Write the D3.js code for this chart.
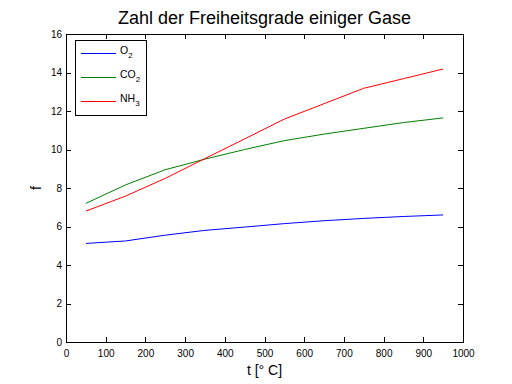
<!DOCTYPE html>
<html><head><meta charset="utf-8">
<script src="https://cdn.jsdelivr.net/npm/d3@7"></script>
<style>body{margin:0;background:#fff}svg{display:block}text{font-family:"Liberation Sans",Arial,sans-serif}</style>
</head><body><svg id="c" width="512" height="384"></svg>
<script>
const temps = [50,150,250,350,450,550,650,750,850,950];
const o2  = [5.12,5.25,5.55,5.8,5.97,6.15,6.3,6.42,6.52,6.6];
const co2 = [7.2,8.16,8.95,9.5,10.0,10.46,10.8,11.1,11.4,11.64];
const nh3 = [6.8,7.58,8.5,9.53,10.55,11.58,12.38,13.18,13.68,14.18];
const xTicks = [0,100,200,300,400,500,600,700,800,900,1000];
const yTicks = [0,2,4,6,8,10,12,14,16];
const seriesNames = ["O","CO","NH"];
const seriesSubs = ["2","2","3"];
const seriesColors = ["#0000ff","#008000","#ff0000"];
const series = [o2,co2,nh3];

const svg = d3.select("#c");
const L=66, R=463, T=34, B=342;
const x = d3.scaleLinear().domain([0,1000]).range([L,R]);
const y = d3.scaleLinear().domain([0,16]).range([B,T]);

svg.append("rect").attr("x",L).attr("y",T).attr("width",R-L).attr("height",B-T)
  .attr("fill","#fff").attr("stroke","#000").attr("stroke-width",1).attr("shape-rendering","crispEdges");

const tl=5;
const fmt = d3.format("d");
const gx = svg.append("g").attr("transform",`translate(0,${B})`)
  .call(d3.axisBottom(x).tickValues(xTicks).tickFormat(fmt).tickSizeInner(-tl).tickSizeOuter(0).tickPadding(8));
const gx2 = svg.append("g").attr("transform",`translate(0,${T})`)
  .call(d3.axisTop(x).tickValues(xTicks).tickSizeInner(-tl).tickSizeOuter(0).tickFormat(""));
const gy = svg.append("g").attr("transform",`translate(${L},0)`)
  .call(d3.axisLeft(y).tickValues(yTicks).tickFormat(fmt).tickSizeInner(-tl).tickSizeOuter(0).tickPadding(4));
const gy2 = svg.append("g").attr("transform",`translate(${R},0)`)
  .call(d3.axisRight(y).tickValues(yTicks).tickSizeInner(-tl).tickSizeOuter(0).tickFormat(""));
[gx,gx2,gy,gy2].forEach(g=>{
  g.select(".domain").remove();
  g.selectAll("line").attr("stroke","#000").attr("shape-rendering","crispEdges");
  g.selectAll("text").attr("font-size",10).attr("fill","#000").attr("font-family","'Liberation Sans',Arial,sans-serif");
});

const line = d3.line().x((d,i)=>x(temps[i])).y(d=>y(d));
series.forEach((s,i)=>{
  svg.append("path").datum(s).attr("d",line).attr("fill","none")
    .attr("stroke",seriesColors[i]).attr("stroke-width",1);
});

svg.append("text").attr("x",(L+R)/2).attr("y",24).attr("text-anchor","middle")
  .attr("font-size",18).text("Zahl der Freiheitsgrade einiger Gase");
svg.append("text").attr("x",(L+R)/2).attr("y",375).attr("text-anchor","middle")
  .attr("font-size",14).text("t [° C]");
svg.append("text").attr("transform",`translate(41,${(T+B)/2}) rotate(-90)`).attr("text-anchor","middle")
  .attr("font-size",14).text("f");

const lg = svg.append("g");
lg.append("rect").attr("x",75.5).attr("y",40.5).attr("width",71).attr("height",75)
  .attr("fill","#fff").attr("stroke","#000").attr("shape-rendering","crispEdges");
seriesNames.forEach((n,i)=>{
  const yy = 53 + i*24;
  lg.append("line").attr("x1",81).attr("x2",116).attr("y1",yy+0.5).attr("y2",yy+0.5)
    .attr("stroke",seriesColors[i]);
  const t = lg.append("text").attr("x",120).attr("y",yy+1).attr("font-size",10.5);
  t.append("tspan").text(n);
  t.append("tspan").attr("font-size",8).attr("dy",4).text(seriesSubs[i]);
});
</script></body></html>
